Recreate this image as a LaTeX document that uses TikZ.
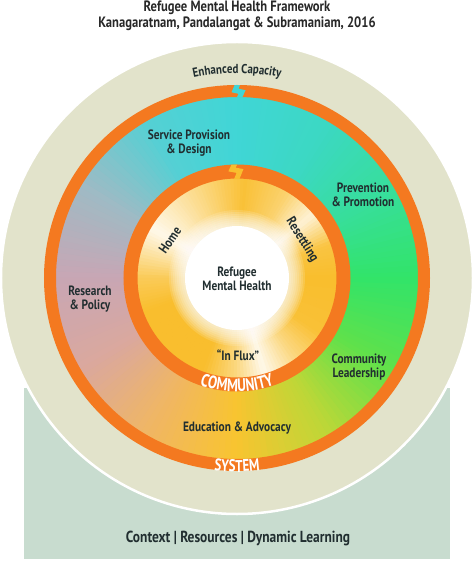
\documentclass[tikz,border=0pt]{standalone}
\usepackage{fontspec}
\setmainfont{PT Sans}[FakeStretch=0.84]
\newfontfamily\condfont{PT Sans}[FakeStretch=0.76]
\usetikzlibrary{decorations.text}
\definecolor{orng}{RGB}{244,121,32}
\definecolor{beige}{RGB}{226,227,203}
\definecolor{rectc}{RGB}{200,220,207}
\definecolor{txt}{RGB}{33,46,48}
\definecolor{ttl}{RGB}{40,40,40}
\definecolor{yel}{RGB}{249,190,46}
\definecolor{c0}{RGB}{50,228,105}
\definecolor{c30}{RGB}{55,222,155}
\definecolor{c60}{RGB}{60,216,195}
\definecolor{c90}{RGB}{64,214,214}
\definecolor{c120}{RGB}{85,208,212}
\definecolor{c150}{RGB}{160,186,196}
\definecolor{c180}{RGB}{200,166,180}
\definecolor{c210}{RGB}{218,168,158}
\definecolor{c240}{RGB}{240,182,100}
\definecolor{c270}{RGB}{248,196,48}
\definecolor{c300}{RGB}{190,215,55}
\definecolor{c330}{RGB}{95,225,75}
\begin{document}
\begin{tikzpicture}[x=1pt,y=1pt,
  lbl/.style={text=txt, align=center, font=\fontsize{13.5}{14.5}\selectfont\bfseries, inner sep=0pt},
  ttlstyle/.style={text=ttl, font=\fontsize{15}{16}\selectfont\bfseries, inner sep=0pt}]
\useasboundingbox (-237,-284) rectangle (237,278);
\fill[white] (-237,-284) rectangle (237,278);
% background panel
\fill[rectc] (-213,-110) rectangle (213,-281);
% outer circle
\fill[beige] (0,0) circle (236);
\draw[white, line width=2.5] (0,0) circle (236);
% conic gradient
\foreach \a/\ca/\cb in {0/c0/c30,30/c30/c60,60/c60/c90,90/c90/c120,120/c120/c150,150/c150/c180,180/c180/c210,210/c210/c240,240/c240/c270,270/c270/c300,300/c300/c330,330/c330/c0}{
  \foreach \i in {0,...,14}{
    \pgfmathsetmacro\t{\a+2*\i}
    \pgfmathsetmacro\u{\t+2.4}
    \pgfmathtruncatemacro\p{round(100*(\i+0.5)/15)}
    \fill[\cb!\p!\ca] (0,0) -- (\t:182.5) arc[start angle=\t, end angle=\u, radius=182.5] -- cycle;
  }
}
% outer orange ring
\draw[orng, line width=12] (0,0) circle (187);
\begin{scope}[even odd rule]
  \clip (0,0) circle (193) (0,0) circle (180.5);
  \draw[c90, line width=5, line join=miter] (2,197) -- (-2,187.5) -- (5,186) -- (1,177);
\end{scope}
% inner yellow disc
\foreach \a/\wa/\b/\wb in {0/0/20/10, 20/10/40/80, 40/80/60/30, 60/30/86/5, 86/5/116/45, 116/45/150/90, 150/90/180/20, 180/20/200/0, 200/0/250/0, 250/0/270/40, 270/40/286/90, 286/90/306/40, 306/40/326/5, 326/5/360/0}{
  \pgfmathtruncatemacro\n{(\b-\a)/2}
  \foreach \i in {1,...,\n}{
    \pgfmathsetmacro\t{\a+2*(\i-1)}
    \pgfmathsetmacro\u{\t+2.4}
    \pgfmathtruncatemacro\w{\wa+(\wb-\wa)*(\i-0.5)/\n}
    \fill[white!\w!yel] (0,0) -- (\t:101) arc[start angle=\t, end angle=\u, radius=101] -- cycle;
  }
}
\foreach \r in {68,66,...,52} \fill[white, opacity=0.14] (0,0) circle (\r);
\fill[white] (0,0) circle (52);
% inner orange ring
\draw[orng, line width=14] (0,0) circle (106.5);
\begin{scope}[even odd rule]
  \clip (0,0) circle (113.5) (0,0) circle (99);
  \draw[yel, line width=5, line join=miter] (-1,117) -- (-5,108.5) -- (3,107) -- (-1,97);
\end{scope}
% curved labels
\path[decorate, decoration={text along path, text align=center,
  text={|\fontsize{13}{13}\selectfont\bfseries\color{txt}|Enhanced Capacity}}]
  (110:205) arc[start angle=110, end angle=70, radius=205];
\path[decorate, decoration={text along path, text align=center,
  text={|\condfont\fontsize{18}{18}\selectfont\bfseries\color{white}|COMMUNITY}}]
  (235:113.5) arc[start angle=235, end angle=305, radius=113.5];
\path[decorate, decoration={text along path, text align=center,
  text={|\condfont\fontsize{17}{17}\selectfont\bfseries\color{white}|SYSTEM}}]
  (250:194) arc[start angle=250, end angle=290, radius=194];
% labels
\node[ttlstyle] (t1) at (0,270) {Refugee Mental Health Framework};
\node[ttlstyle] (t2) at (0,254) {Kanagaratnam, Pandalangat \& Subramaniam, 2016};
\node[lbl] (sp) at (-48,135) {Service Provision\\\& Design};
\node[lbl] (pp) at (126,83) {Prevention\\\& Promotion};
\node[lbl] (rp) at (-147,-21) {Research\\\& Policy};
\node[lbl] (cl) at (122,-89) {Community\\Leadership};
\node[lbl] (ea) at (0,-150) {Education \& Advocacy};
\node[lbl] (rmh) at (0,-1) {Refugee\\Mental Health};
\node[lbl, rotate=55] (home) at (-67,38) {Home};
\node[lbl, rotate=-58] (res) at (65,38) {Resettling};
\node[lbl] (flux) at (1,-77) {“In Flux”};
\node[lbl, font=\fontsize{16}{18}\selectfont\bfseries] (ctx) at (1,-260) {Context | Resources | Dynamic Learning};
\end{tikzpicture}
\end{document}
